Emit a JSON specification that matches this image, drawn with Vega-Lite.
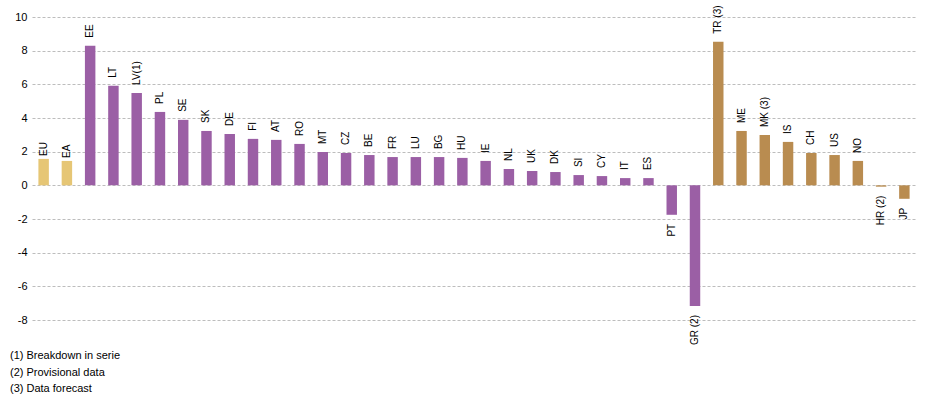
{
  "$schema": "https://vega.github.io/schema/vega-lite/v6.json",
  "width": 884,
  "height": 303,
  "autosize": "none",
  "padding": {"left": 32, "top": 17, "right": 12, "bottom": 79},
  "background": "white",
  "config": {
    "view": {"stroke": null},
    "font": "Liberation Sans",
    "text": {"font": "Liberation Sans"}
  },
  "title": {
    "text": ["(1) Breakdown in serie", "(2) Provisional data", "(3) Data forecast"],
    "orient": "bottom",
    "anchor": "start",
    "frame": "group",
    "dx": -22,
    "offset": 5,
    "font": "Liberation Sans",
    "fontSize": 11,
    "fontWeight": "normal",
    "color": "#000000",
    "lineHeight": 16.5
  },
  "data": {
    "values": [
      {"name": "EU", "value": 1.57, "group": "agg"},
      {"name": "EA", "value": 1.45, "group": "agg"},
      {"name": "EE", "value": 8.29, "group": "member"},
      {"name": "LT", "value": 5.91, "group": "member"},
      {"name": "LV(1)", "value": 5.49, "group": "member"},
      {"name": "PL", "value": 4.36, "group": "member"},
      {"name": "SE", "value": 3.89, "group": "member"},
      {"name": "SK", "value": 3.23, "group": "member"},
      {"name": "DE", "value": 3.05, "group": "member"},
      {"name": "FI", "value": 2.76, "group": "member"},
      {"name": "AT", "value": 2.70, "group": "member"},
      {"name": "RO", "value": 2.46, "group": "member"},
      {"name": "MT", "value": 1.98, "group": "member"},
      {"name": "CZ", "value": 1.92, "group": "member"},
      {"name": "BE", "value": 1.80, "group": "member"},
      {"name": "FR", "value": 1.68, "group": "member"},
      {"name": "LU", "value": 1.68, "group": "member"},
      {"name": "BG", "value": 1.68, "group": "member"},
      {"name": "HU", "value": 1.63, "group": "member"},
      {"name": "IE", "value": 1.45, "group": "member"},
      {"name": "NL", "value": 0.97, "group": "member"},
      {"name": "UK", "value": 0.85, "group": "member"},
      {"name": "DK", "value": 0.79, "group": "member"},
      {"name": "SI", "value": 0.61, "group": "member"},
      {"name": "CY", "value": 0.55, "group": "member"},
      {"name": "IT", "value": 0.43, "group": "member"},
      {"name": "ES", "value": 0.43, "group": "member"},
      {"name": "PT", "value": -1.75, "group": "member"},
      {"name": "GR (2)", "value": -7.17, "group": "member"},
      {"name": "TR (3)", "value": 8.53, "group": "other"},
      {"name": "ME", "value": 3.23, "group": "other"},
      {"name": "MK (3)", "value": 2.99, "group": "other"},
      {"name": "IS", "value": 2.58, "group": "other"},
      {"name": "CH", "value": 1.92, "group": "other"},
      {"name": "US", "value": 1.80, "group": "other"},
      {"name": "NO", "value": 1.45, "group": "other"},
      {"name": "HR (2)", "value": -0.08, "group": "other"},
      {"name": "JP", "value": -0.80, "group": "other"}
    ]
  },
  "encoding": {
    "x": {
      "field": "name",
      "type": "nominal",
      "sort": null,
      "axis": null,
      "scale": {"paddingInner": 0.55, "paddingOuter": 0.275}
    },
    "y": {
      "field": "value",
      "type": "quantitative",
      "scale": {"domain": [-8, 10], "nice": false, "zero": true},
      "axis": {
        "title": null,
        "values": [-8, -6, -4, -2, 0, 2, 4, 6, 8, 10],
        "labelExpr": "'' + datum.value",
        "domain": false,
        "ticks": false,
        "labelPadding": 5,
        "labelFont": "Liberation Sans",
        "labelFontSize": 11,
        "labelColor": "#000000",
        "gridColor": "#BDBDBD",
        "gridDash": [3, 2],
        "gridWidth": 1
      }
    }
  },
  "layer": [
    {
      "mark": {"type": "bar"},
      "encoding": {
        "color": {
          "field": "group",
          "type": "nominal",
          "legend": null,
          "scale": {
            "domain": ["agg", "member", "other"],
            "range": ["#E6C675", "#9B5FA5", "#B98C50"]
          }
        }
      }
    },
    {
      "transform": [{"filter": "datum.value >= 0 && datum.group != 'agg'"}],
      "mark": {"type": "text", "angle": 270, "align": "left", "baseline": "middle", "dx": 8, "fontSize": 10, "color": "#000000"},
      "encoding": {"text": {"field": "name"}}
    },
    {
      "transform": [{"filter": "datum.group == 'agg'"}],
      "mark": {"type": "text", "angle": 270, "align": "left", "baseline": "middle", "dx": 3, "fontSize": 10, "color": "#000000"},
      "encoding": {"text": {"field": "name"}}
    },
    {
      "transform": [{"filter": "datum.value < 0"}],
      "mark": {"type": "text", "angle": 270, "align": "right", "baseline": "middle", "dx": -9, "fontSize": 10, "color": "#000000"},
      "encoding": {"text": {"field": "name"}}
    }
  ]
}
